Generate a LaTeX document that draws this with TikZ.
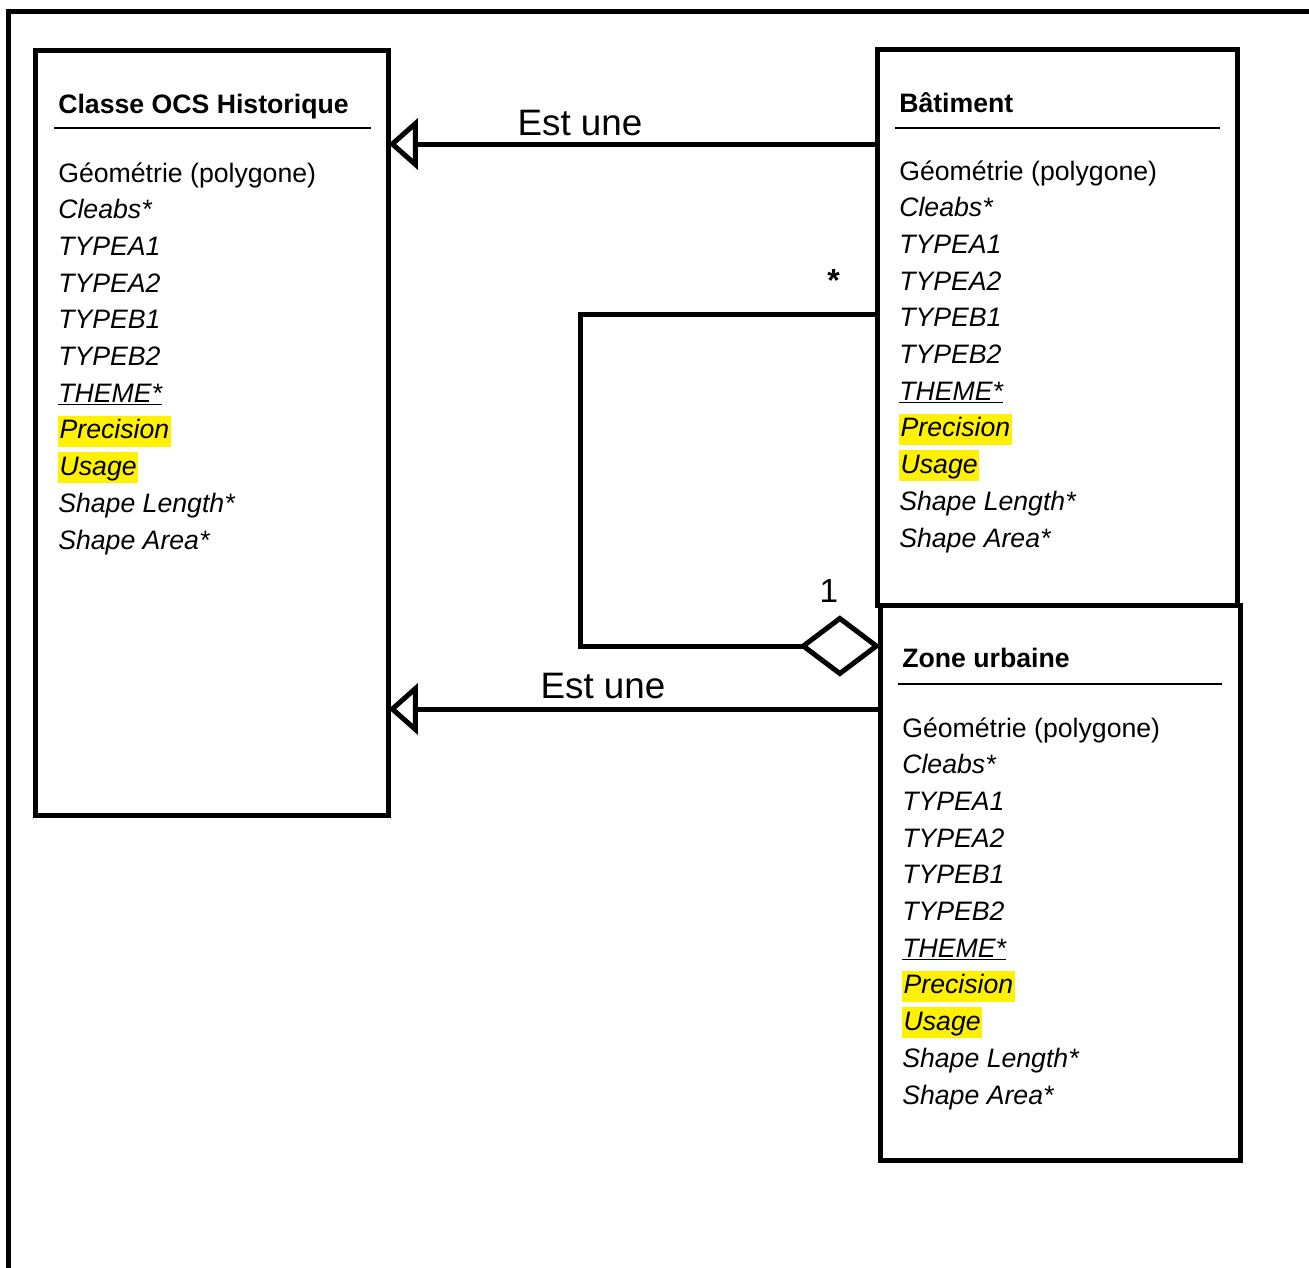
\documentclass[tikz,border=0pt]{standalone}
\usepackage{fontspec}
\setmainfont{Liberation Sans}
\usetikzlibrary{arrows.meta,fit}

\begin{document}
\begin{tikzpicture}[x=0.75pt,y=-0.75pt,
    classbox/.style={draw,line width=3.75pt,inner sep=0pt,outer sep=0pt},
    classname/.style={anchor=base west,inner sep=0pt,font=\fontsize{20}{24}\selectfont\bfseries},
    attr/.style={anchor=base west,inner sep=0pt,font=\fontsize{20}{24}\selectfont},
    it/.style={attr,font=\fontsize{20}{24}\selectfont\itshape},
    hl/.style={it,fill=yellow,inner xsep=1pt,text height=17.5pt,text depth=5.75pt},
    headline/.style={line width=1.5pt},
    link/.style={line width=3.75pt},
    biglabel/.style={anchor=base,inner sep=0pt,font=\fontsize{27.6}{32}\selectfont}]
    \useasboundingbox (0,0) rectangle (1309,1267);

    % outer frame
    \draw[link] (1320,11.5) -- (8.5,11.5) -- (8.5,1280);

    % the three classes
    \node[classbox,fit={(35.5,50) (388.5,815)}] (ocs) {};
    \node[classbox,fit={(877,49) (1237.5,605)}] (bat) {};
    \node[classbox,fit={(880.5,605) (1240.5,1160.5)}] (zone) {};

    \node[classname] (ocs-name) at (58,113) {Classe OCS Historique};
    \node[classname] (bat-name) at (899,112) {Bâtiment};
    \node[classname] (zone-name) at (902,667) {Zone urbaine};

    \draw[headline] (54,128) -- (371,128);
    \draw[headline] (895,128) -- (1220,128);
    \draw[headline] (898,684) -- (1222,684);

    \foreach \cls/\cx/\cy in {ocs/58/182, bat/899/180, zone/902/737}
      \foreach \sty/\txt [count=\i from 0] in {attr/Géométrie (polygone), it/Cleabs*,
          it/TYPEA1, it/TYPEA2, it/TYPEB1, it/TYPEB2, it/\underline{THEME*},
          hl/Precision, hl/Usage, it/Shape Length*, it/Shape Area*}
        \node[\sty] (\cls-\i) at (\cx,\cy+36.7*\i) {\txt};

    % generalisations
    \draw[link,-{Triangle[open,length=22pt,width=38pt]}] (bat.west |- 0,144) -- (ocs.east |- 0,144);
    \node[biglabel] (gen-bat) at (580,135) {Est une};
    \draw[link,-{Triangle[open,length=22pt,width=38pt]}] (zone.west |- 0,709) -- (ocs.east |- 0,709);
    \node[biglabel] (gen-zone) at (603,698) {Est une};

    % aggregation
    \coordinate (agg-bend) at (580,646);
    \draw[link,-{Diamond[open,length=61pt,width=46pt]}] (bat.west |- 0,314) -| (agg-bend) -- (zone.west |- agg-bend);
    \node[biglabel,font=\fontsize{24}{28}\selectfont\bfseries] (mult-many) at (833.5,291) {*};
    \node[biglabel,font=\fontsize{25}{30}\selectfont] (mult-one) at (829,602) {1};
\end{tikzpicture}
\end{document}
